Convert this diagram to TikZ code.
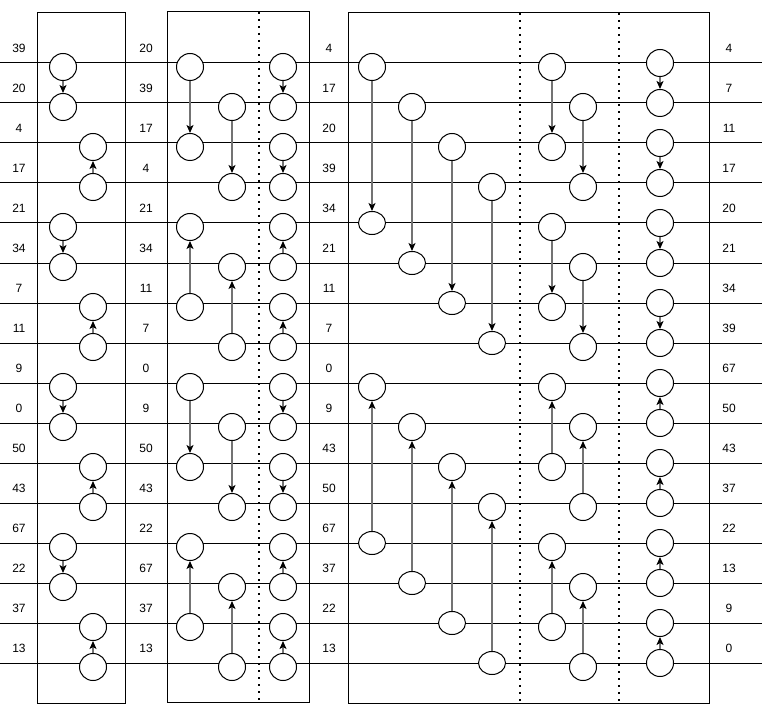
\documentclass[tikz,border=0pt]{standalone}
\usepackage{fontspec}
\setmainfont{Liberation Sans}
\usetikzlibrary{
  positioning,
  shapes.geometric,
  arrows.meta
}
\tikzstyle{arrow}     = [draw=black!55, line width=1.5pt, -{Stealth[length=8pt,width=7pt,inset=2pt,color=black]}]

\begin{document}
\begin{tikzpicture}[
x=1pt, y=-1pt,
roundnode/.style={circle, draw, fill=white, line width=1pt, minimum size=27pt, inner sep=0pt},
ovalnode/.style={ellipse, draw, fill=white, line width=1pt, minimum width=27pt, minimum height=23pt, inner sep=0pt},
numnode/.style={font=\fontsize{12}{14}\selectfont, inner sep=0pt},
wire/.style={line width=1pt},
boxline/.style={line width=1pt},
dotline/.style={line width=1.5pt, dash pattern=on 2pt off 5pt},
]
\useasboundingbox (0,0) rectangle (762,711);

%Wires
\foreach \i in {0,...,15}{
  \coordinate (wl\i) at (0,{63+40*\i});
  \coordinate (wr\i) at (762,{63+40*\i});
  \draw[wire] (wl\i) -- (wr\i);
}

%Boxes
\draw[boxline] (37,13) rectangle (125,703);
\draw[boxline] (167,12) rectangle (309,702);
\draw[boxline] (348,13) rectangle (709,703);
\draw[dotline] (259,12) -- (259,702);
\draw[dotline] (520,13) -- (520,703);
\draw[dotline] (619,13) -- (619,703);

%Labels
\foreach \v [count=\i from 0] in {39,20,4,17,21,34,7,11,9,0,50,43,67,22,37,13}
  \node[numnode] (la\i) at (19,{48+40*\i}) {\v};
\foreach \v [count=\i from 0] in {20,39,17,4,21,34,11,7,0,9,50,43,22,67,37,13}
  \node[numnode] (lb\i) at (146,{48+40*\i}) {\v};
\foreach \v [count=\i from 0] in {4,17,20,39,34,21,11,7,0,9,43,50,67,37,22,13}
  \node[numnode] (lc\i) at (329,{48+40*\i}) {\v};
\foreach \v [count=\i from 0] in {4,7,11,17,20,21,34,39,67,50,43,37,22,13,9,0}
  \node[numnode] (ld\i) at (729,{48+40*\i}) {\v};

%Comparators
\foreach \cx/\t/\h in {63/0/1, 93/3/2, 63/4/5, 93/7/6, 63/8/9, 93/11/10, 63/12/13, 93/15/14,
  190/0/2, 232/1/3, 190/6/4, 232/7/5, 190/8/10, 232/9/11, 190/14/12, 232/15/13,
  283/0/1, 283/2/3, 283/5/4, 283/7/6, 283/8/9, 283/10/11, 283/13/12, 283/15/14,
  552/0/2, 583/1/3, 552/4/6, 583/5/7, 552/10/8, 583/11/9, 552/14/12, 583/15/13}{
  \node[roundnode] (n\cx-\t) at (\cx,{67+40*\t}) {};
  \node[roundnode] (n\cx-\h) at (\cx,{67+40*\h}) {};
  \draw[arrow] (n\cx-\t) -- (n\cx-\h);
}
\foreach \cx/\t/\h in {372/0/4, 412/1/5, 452/2/6, 492/3/7}{
  \node[roundnode] (n\cx-\t) at (\cx,{67+40*\t}) {};
  \node[ovalnode]  (n\cx-\h) at (\cx,{63+40*\h}) {};
  \draw[arrow] (n\cx-\t) -- (n\cx-\h);
}
\foreach \cx/\t/\h in {372/12/8, 412/13/9, 452/14/10, 492/15/11}{
  \node[ovalnode]  (n\cx-\t) at (\cx,{63+40*\t}) {};
  \node[roundnode] (n\cx-\h) at (\cx,{67+40*\h}) {};
  \draw[arrow] (n\cx-\t) -- (n\cx-\h);
}
\foreach \t/\h in {0/1, 2/3, 4/5, 6/7, 9/8, 11/10, 13/12, 15/14}{
  \node[roundnode] (n660-\t) at (660,{63+40*\t}) {};
  \node[roundnode] (n660-\h) at (660,{63+40*\h}) {};
  \draw[arrow] (n660-\t) -- (n660-\h);
}
\end{tikzpicture}
\end{document}
